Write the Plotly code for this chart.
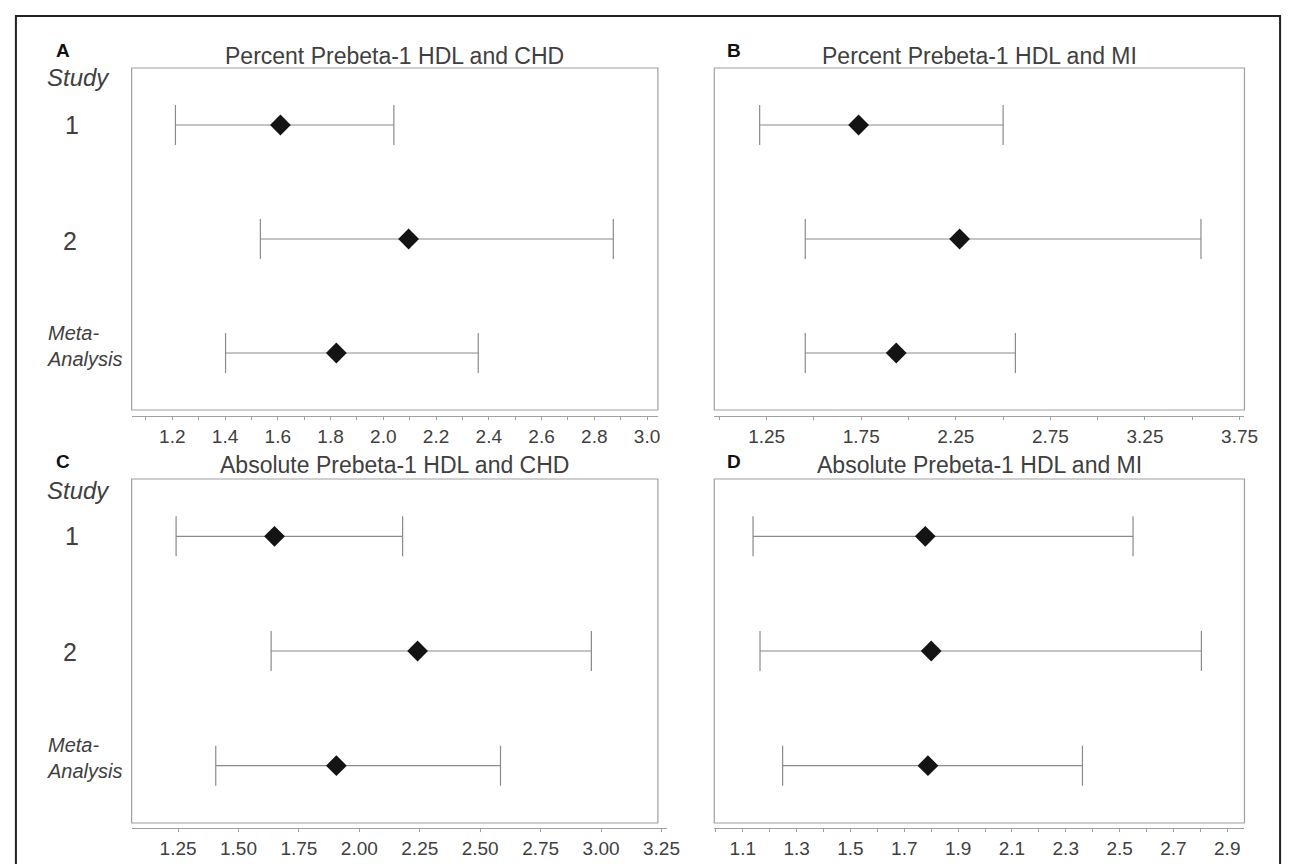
import plotly.graph_objects as go

W, H = 1293, 864

# ---------------- data ----------------
studies = ["1", "2", "Meta-Analysis"]
row_pos = [3, 2, 1]

A_est = [1.61, 2.096, 1.822]
A_lo = [1.212, 1.534, 1.402]
A_hi = [2.04, 2.872, 2.36]

B_est = [1.736, 2.27, 1.935]
B_lo = [1.213, 1.454, 1.454]
B_hi = [2.50, 3.546, 2.565]

C_est = [1.649, 2.241, 1.905]
C_lo = [1.242, 1.635, 1.406]
C_hi = [2.179, 2.96, 2.584]

D_est = [1.778, 1.80, 1.788]
D_lo = [1.138, 1.164, 1.248]
D_hi = [2.55, 2.804, 2.362]

A_ticks = [1.2, 1.4, 1.6, 1.8, 2.0, 2.2, 2.4, 2.6, 2.8, 3.0]
A_ticktext = ["1.2", "1.4", "1.6", "1.8", "2.0", "2.2", "2.4", "2.6", "2.8", "3.0"]
B_ticks = [1.25, 1.75, 2.25, 2.75, 3.25, 3.75]
B_ticktext = ["1.25", "1.75", "2.25", "2.75", "3.25", "3.75"]
C_ticks = [1.25, 1.5, 1.75, 2.0, 2.25, 2.5, 2.75, 3.0, 3.25]
C_ticktext = ["1.25", "1.50", "1.75", "2.00", "2.25", "2.50", "2.75", "3.00", "3.25"]
D_ticks = [1.1, 1.3, 1.5, 1.7, 1.9, 2.1, 2.3, 2.5, 2.7, 2.9]
D_ticktext = ["1.1", "1.3", "1.5", "1.7", "1.9", "2.1", "2.3", "2.5", "2.7", "2.9"]

titles = ["Percent Prebeta-1 HDL and CHD", "Percent Prebeta-1 HDL and MI",
          "Absolute Prebeta-1 HDL and CHD", "Absolute Prebeta-1 HDL and MI"]
letters = ["A", "B", "C", "D"]

# ---------------- layout helpers ----------------
def px(x):
    return x / W

def py(y):
    return 1 - y / H

panels = [
    dict(box=(125, 60, 657, 402), axy=408, ax=(125, 657), rng=[1.046, 3.041], minor=0.1,
         est=A_est, lo=A_lo, hi=A_hi, tv=A_ticks, tt=A_ticktext),
    dict(box=(714, 60, 1250, 402), axy=408, ax=(714, 1250), rng=[0.973, 3.776], minor=0.25,
         est=B_est, lo=B_lo, hi=B_hi, tv=B_ticks, tt=B_ticktext),
    dict(box=(125, 471, 657, 815), axy=820, ax=(125, 666), rng=[1.058, 3.272], minor=0.25,
         est=C_est, lo=C_lo, hi=C_hi, tv=C_ticks, tt=C_ticktext),
    dict(box=(714, 471, 1250, 815), axy=820, ax=(714, 1250), rng=[0.994, 2.964], minor=0.1,
         est=D_est, lo=D_lo, hi=D_hi, tv=D_ticks, tt=D_ticktext),
]

TXT = "#404040"

fig = go.Figure()
layout = dict(
    width=W, height=H,
    margin=dict(l=0, r=0, t=0, b=0),
    paper_bgcolor="white", plot_bgcolor="rgba(0,0,0,0)",
    showlegend=False,
    font=dict(family="Liberation Sans, Arial, sans-serif", color=TXT),
)
shapes = []
annotations = []

for i, p in enumerate(panels):
    n = i + 1
    xa = "x" if n == 1 else f"x{n}"
    ya = "y" if n == 1 else f"y{n}"
    xkey = "xaxis" if n == 1 else f"xaxis{n}"
    ykey = "yaxis" if n == 1 else f"yaxis{n}"
    bx0, by0, bx1, by1 = p["box"]

    est, lo, hi = p["est"], p["lo"], p["hi"]
    plus = [h - e for h, e in zip(hi, est)]
    minus = [e - l for e, l in zip(est, lo)]

    fig.add_trace(go.Scatter(
        x=est, y=row_pos, xaxis=xa, yaxis=ya, mode="markers",
        marker=dict(symbol="diamond", size=16, color="#141414", line=dict(width=0)),
        error_x=dict(type="data", symmetric=False, array=plus, arrayminus=minus,
                     color="#8a8a8a", thickness=1.2, width=20),
        hoverinfo="skip",
    ))

    layout[xkey] = dict(
        domain=[px(p["ax"][0]), px(p["ax"][1])],
        range=p["rng"], anchor="free", position=py(p["axy"]),
        showgrid=False, zeroline=False,
        showline=True, linecolor="#a0a0a0", linewidth=1.2,
        ticks="outside", ticklen=3, tickcolor="#a0a0a0", tickwidth=1,
        tickvals=p["tv"], ticktext=p["tt"],
        tickfont=dict(size=19, color=TXT),
        minor=dict(dtick=p["minor"], tick0=0, ticks="outside", ticklen=3,
                   tickcolor="#a0a0a0", tickwidth=1),
        fixedrange=True,
    )
    layout[ykey] = dict(
        domain=[py(by1), py(by0)], range=[0.5, 3.5], anchor=xa,
        visible=False, fixedrange=True,
    )

    shapes.append(dict(type="rect", xref="paper", yref="paper",
                       x0=px(bx0), x1=px(bx1), y0=py(by1), y1=py(by0),
                       line=dict(color="#a0a0a0", width=1.2)))

    ty = 48 if by0 < 200 else 457
    annotations.append(dict(text=titles[i], xref="paper", yref="paper",
                            x=px((bx0 + bx1) / 2), y=py(ty), xanchor="center", yanchor="middle",
                            showarrow=False, font=dict(size=23, color=TXT)))
    lx = 47 if bx0 < 300 else 725
    ly = 43 if by0 < 200 else 453
    annotations.append(dict(text="<b>" + letters[i] + "</b>", xref="paper", yref="paper",
                            x=px(lx), y=py(ly), xanchor="left", yanchor="middle",
                            showarrow=False, font=dict(size=19, color="#111")))

for (study_y, r1, r2, meta_y) in [(70, 117, 233, 338), (482, 528, 644, 750)]:
    annotations.append(dict(text="<i>Study</i>", xref="paper", yref="paper",
                            x=px(71.5), y=py(study_y), xanchor="center", yanchor="middle",
                            showarrow=False, font=dict(size=24, color=TXT)))
    annotations.append(dict(text=studies[0], xref="paper", yref="paper",
                            x=px(65), y=py(r1), xanchor="center", yanchor="middle",
                            showarrow=False, font=dict(size=25, color=TXT)))
    annotations.append(dict(text=studies[1], xref="paper", yref="paper",
                            x=px(63), y=py(r2), xanchor="center", yanchor="middle",
                            showarrow=False, font=dict(size=25, color=TXT)))
    annotations.append(dict(text="<i>Meta-</i><br><i>Analysis</i>", xref="paper", yref="paper",
                            x=px(37), y=py(meta_y), xanchor="left", yanchor="middle", align="left",
                            showarrow=False, font=dict(size=20, color=TXT)))

shapes.append(dict(type="rect", xref="paper", yref="paper",
                   x0=px(8), x1=px(1286), y0=py(880), y1=py(8),
                   line=dict(color="#222", width=2)))

layout["shapes"] = shapes
layout["annotations"] = annotations
fig.update_layout(**layout)
fig.write_html("out.html")
